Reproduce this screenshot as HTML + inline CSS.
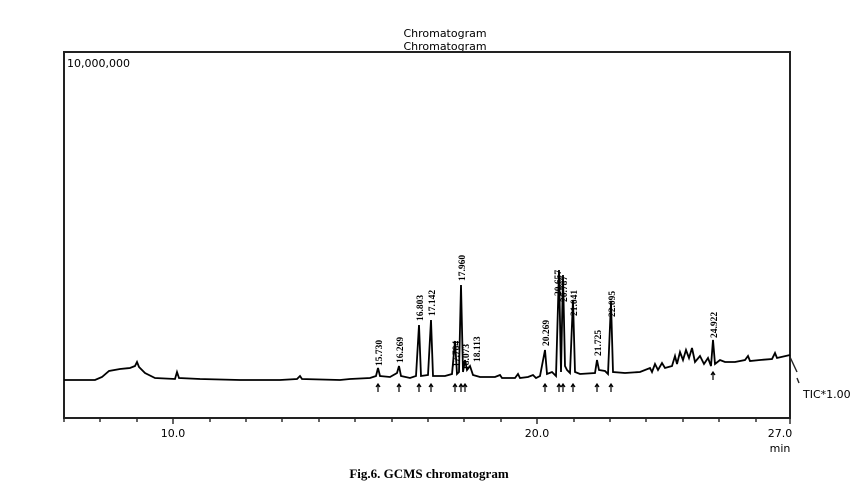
<!DOCTYPE html>
<html><head><style>
body{margin:0;background:#fff;width:859px;height:495px;overflow:hidden}
svg{display:block}
.s{font-family:"DejaVu Sans","Liberation Sans",sans-serif;font-size:11px;fill:#000}
.l{font-family:"Liberation Serif",serif;font-size:9.5px;font-weight:bold;fill:#000}
</style></head><body>
<svg width="859" height="495" viewBox="0 0 859 495">
<text x="445" y="37" class="s" text-anchor="middle">Chromatogram</text>
<text x="445" y="50" class="s" text-anchor="middle">Chromatogram</text>
<rect x="64" y="52" width="726" height="366" fill="none" stroke="#222" stroke-width="2"/>
<text x="67" y="67" class="s">10,000,000</text>
<g stroke="#222" stroke-width="1.4">
<line x1="64" y1="418" x2="64" y2="422"/><line x1="100" y1="418" x2="100" y2="422"/><line x1="137" y1="418" x2="137" y2="422"/><line x1="173" y1="418" x2="173" y2="424"/><line x1="210" y1="418" x2="210" y2="422"/><line x1="246" y1="418" x2="246" y2="422"/><line x1="282" y1="418" x2="282" y2="422"/><line x1="319" y1="418" x2="319" y2="422"/><line x1="355" y1="418" x2="355" y2="422"/><line x1="392" y1="418" x2="392" y2="422"/><line x1="428" y1="418" x2="428" y2="422"/><line x1="464" y1="418" x2="464" y2="422"/><line x1="501" y1="418" x2="501" y2="422"/><line x1="537" y1="418" x2="537" y2="424"/><line x1="574" y1="418" x2="574" y2="422"/><line x1="610" y1="418" x2="610" y2="422"/><line x1="646" y1="418" x2="646" y2="422"/><line x1="683" y1="418" x2="683" y2="422"/><line x1="719" y1="418" x2="719" y2="422"/><line x1="756" y1="418" x2="756" y2="422"/><line x1="790" y1="418" x2="790" y2="424"/>
</g>
<text x="173" y="437" class="s" text-anchor="middle" font-size="12">10.0</text>
<text x="537" y="437" class="s" text-anchor="middle" font-size="12">20.0</text>
<text x="780" y="437" class="s" text-anchor="middle" font-size="12">27.0</text>
<text x="780" y="452" class="s" text-anchor="middle">min</text>
<text x="803" y="398" class="s">TIC*1.00</text>
<line x1="790" y1="357" x2="797" y2="372" stroke="#222" stroke-width="1.4"/>
<line x1="797" y1="378" x2="799" y2="383" stroke="#222" stroke-width="1.4"/>
<polyline fill="none" stroke="#000" stroke-width="1.8" points="64,380 95,380 102,377 109,371 120,369 130,368 135,366 137,362 139,367 145,373 155,378 175,379 177,372 179,378 200,379 240,380 280,380 297,379 300,376 302,379 340,380 350,379 370,378 376,376 378,368 380,376 390,377 397,373 399,366 401,376 410,378 416,376 419,325 421,376 428,375 431,320 433,376 445,376 452,374 455,341 457,374 459,372 461,285 463,372 465,360 467,370 470,366 473,375 480,377 495,377 500,375 502,378 515,378 518,374 520,378 528,377 533,375 536,378 540,376 545,350 547,374 552,372 556,376 559,270 561,372 563,275 565,366 567,370 570,373 573,300 575,372 580,374 595,373 597,360 599,370 605,371 608,374 611,302 613,372 625,373 640,372 650,368 652,372 655,364 658,370 662,363 665,368 672,366 675,356 677,364 680,352 683,360 686,350 689,358 692,348 695,362 700,356 704,364 708,358 711,366 713,340 715,364 720,360 725,362 735,362 745,360 748,356 750,361 760,360 772,359 775,353 777,358 790,355"/>
<g fill="none" stroke="#000" stroke-width="1.2">
<path d="M378,392v-8m-2,3l2,-3l2,3M399,392v-8m-2,3l2,-3l2,3M419,392v-8m-2,3l2,-3l2,3M431,392v-8m-2,3l2,-3l2,3M455,392v-8m-2,3l2,-3l2,3M461,392v-8m-2,3l2,-3l2,3M465,392v-8m-2,3l2,-3l2,3M545,392v-8m-2,3l2,-3l2,3M559,392v-8m-2,3l2,-3l2,3M563,392v-8m-2,3l2,-3l2,3M573,392v-8m-2,3l2,-3l2,3M597,392v-8m-2,3l2,-3l2,3M611,392v-8m-2,3l2,-3l2,3M713,380v-8m-2,3l2,-3l2,3"/>
</g>
<g class="l">
<text transform="translate(382,366) rotate(-90)">15.730</text>
<text transform="translate(403,363) rotate(-90)">16.269</text>
<text transform="translate(423,321) rotate(-90)">16.803</text>
<text transform="translate(435,316) rotate(-90)">17.142</text>
<text transform="translate(459,367) rotate(-90)">17.784</text>
<text transform="translate(465,281) rotate(-90)">17.960</text>
<text transform="translate(469,370) rotate(-90)">18.073</text>
<text transform="translate(480,362) rotate(-90)">18.113</text>
<text transform="translate(549,346) rotate(-90)">20.269</text>
<text transform="translate(561,296) rotate(-90)">20.657</text>
<text transform="translate(567,302) rotate(-90)">20.787</text>
<text transform="translate(577,316) rotate(-90)">21.041</text>
<text transform="translate(601,356) rotate(-90)">21.725</text>
<text transform="translate(615,317) rotate(-90)">22.095</text>
<text transform="translate(717,338) rotate(-90)">24.922</text>
</g>
<text x="429" y="478" font-family="Liberation Serif,serif" font-size="13" font-weight="bold" text-anchor="middle" fill="#000">Fig.6. GCMS chromatogram</text>
</svg>
</body></html>
